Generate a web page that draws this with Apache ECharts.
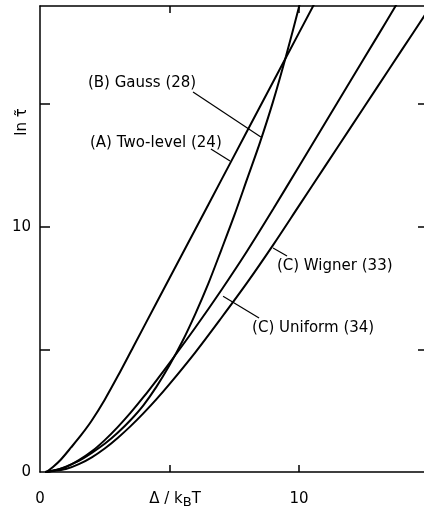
<!DOCTYPE html>
<html>
<head>
<meta charset="utf-8">
<script src="https://cdn.jsdelivr.net/npm/echarts@6/dist/echarts.min.js"></script>
<style>
  html, body { margin: 0; padding: 0; background: #fff; }
  #chart { width: 424px; height: 512px; }
</style>
</head>
<body>
<div id="chart"></div>
<script>
// curve data: [Δ/kBT, ln τ]
var twoLevel = [[0.25,0],[0.5,0.2],[0.8,0.5],[1.2,1.0],[1.6,1.52],[2,2.1],[2.5,2.95],[3,3.9],[3.6,5.1],
  [4.5,6.9],[5.5,8.9],[6.5,10.9],[7.5,12.9],[8.5,14.9],[9.5,16.9],[10.6,19.1]];
var gauss = [[0.2,0],[0.6,0.07],[1,0.22],[1.5,0.45],[2,0.78],[2.5,1.15],[3,1.6],[3.5,2.12],[4,2.73],
  [4.5,3.48],[5,4.35],[5.5,5.33],[6,6.45],[6.5,7.68],[7,9.05],[7.5,10.45],[8,11.95],[8.5,13.45],
  [9,15.1],[9.5,16.95],[10,18.95],[10.1,19.4]];
var uniform = [[0.2,0],[0.5,0.06],[1,0.2],[1.5,0.48],[2,0.84],[2.5,1.3],[3,1.83],[3.5,2.42],[4,3.06],
  [4.5,3.74],[5,4.44],[6,5.89],[7,7.41],[8,9.01],[9,10.71],[10,12.46],[11,14.21],[12,15.96],[13,17.71],[13.8,19.12]];
var wigner = [[0.2,0],[0.5,0.04],[1,0.12],[1.5,0.32],[2,0.6],[2.5,0.96],[3,1.39],[3.5,1.87],[4,2.4],
  [4.5,2.97],[5,3.58],[6,4.88],[7,6.28],[8,7.72],[9,9.25],[10,10.85],[11,12.45],[12,14.05],
  [13,15.65],[14,17.25],[15,18.85]];

var xTicks = [5, 10];
var xLabels = [0, 10];
var yTicks = [5, 10, 15];
var yLabels = [0, 10];

// curve labels: text position and leader line, in data units
var notes = [
  { text: '(B) Gauss (28)',     at: [1.85, 15.86], from: [5.91, 15.49], to: [8.53, 13.66] },
  { text: '(A) Two-level (24)', at: [1.93, 13.41], from: [6.6, 13.17],  to: [7.34, 12.68] },
  { text: '(C) Wigner (33)',    at: [9.15, 8.4],   from: [9.54, 8.81],  to: [9.0, 9.13] },
  { text: '(C) Uniform (34)',   at: [8.19, 5.87],  from: [8.46, 6.28],  to: [7.07, 7.17] }
];

var chart = echarts.init(document.getElementById('chart'));
var font = 'DejaVu Sans';
var X_MAX = 14.83, Y_MAX = 19;

function curve(name, data) {
  return {
    name: name, type: 'line', data: data, showSymbol: false, smooth: 0.3,
    lineStyle: { color: '#000', width: 2 }, clip: true, animation: false
  };
}

function axisLine(show) {
  return { show: show, onZero: false, lineStyle: { color: '#000', width: 1.5 } };
}
function ticks(values, len) {
  return { show: true, inside: true, length: len, customValues: values,
    lineStyle: { color: '#000', width: 1.5 } };
}
// axis that only carries inward ticks
function tickAxis(pos, max, values, len) {
  return {
    type: 'value', position: pos, min: 0, max: max,
    axisLine: axisLine(false), axisTick: ticks(values, len),
    axisLabel: { show: false }, splitLine: { show: false }
  };
}

chart.setOption({
  animation: false,
  grid: { left: 40, right: 0, top: 6, bottom: 40 },
  xAxis: [{
    type: 'value', min: 0, max: X_MAX,
    axisLine: axisLine(true),
    axisTick: { show: false },
    axisLabel: { margin: 20, color: '#000', fontSize: 15, fontFamily: font, customValues: xLabels },
    splitLine: { show: false }
  }, {
    type: 'value', position: 'top', min: 0, max: X_MAX,
    axisLine: axisLine(true), axisTick: { show: false },
    axisLabel: { show: false }, splitLine: { show: false }
  },
    tickAxis('bottom', X_MAX, xTicks, 7),
    tickAxis('top', X_MAX, xTicks, 7)
  ],
  yAxis: [{
    type: 'value', min: 0, max: Y_MAX,
    axisLine: axisLine(true),
    axisTick: { show: false },
    axisLabel: { margin: 9, color: '#000', fontSize: 15, fontFamily: font, customValues: yLabels },
    splitLine: { show: false }
  },
    tickAxis('left', Y_MAX, yTicks, 10),
    tickAxis('right', Y_MAX, yTicks, 6)
  ],
  series: [
    curve('(A) Two-level (24)', twoLevel),
    curve('(B) Gauss (28)', gauss),
    curve('(C) Wigner (33)', wigner),
    curve('(C) Uniform (34)', uniform)
  ]
});

var px = function (p) { return chart.convertToPixel({ gridIndex: 0 }, p); };
var graphics = [];
notes.forEach(function (n) {
  var a = px(n.at), f = px(n.from), t = px(n.to);
  graphics.push({
    type: 'text', x: a[0], y: a[1],
    style: { text: n.text, fill: '#000', font: '15px "' + font + '"', textVerticalAlign: 'middle' }
  });
  graphics.push({
    type: 'line', shape: { x1: f[0], y1: f[1], x2: t[0], y2: t[1] },
    style: { stroke: '#000', lineWidth: 1.2 }
  });
});
// axis titles
graphics.push({
  type: 'text', x: 175, y: 499,
  style: {
    text: 'Δ / k{sub|B}T', fill: '#000', font: '15px "' + font + '"',
    textAlign: 'center', textVerticalAlign: 'middle',
    rich: { sub: { fontSize: 13, fontFamily: font, padding: [8, 0, 0, 0] } }
  }
});
graphics.push({
  type: 'text', x: 22, y: 122, rotation: Math.PI / 2,
  style: {
    text: 'ln τ\u0303', fill: '#000', font: '15px "' + font + '"',
    textAlign: 'center', textVerticalAlign: 'middle'
  }
});
chart.setOption({ graphic: graphics });
</script>
</body>
</html>
